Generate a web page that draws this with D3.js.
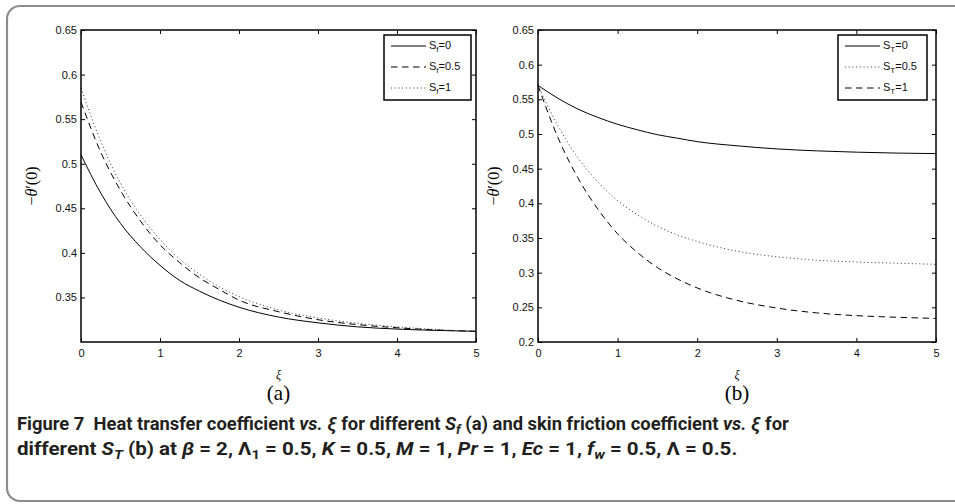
<!DOCTYPE html>
<html>
<head>
<meta charset="utf-8">
<script src="https://cdn.jsdelivr.net/npm/d3@7"></script>
<style>
  body { margin: 0; background: #fff; }
  svg { display: block; }
</style>
</head>
<body>
<svg id="fig" width="955" height="504"></svg>
<script>
// values
const xi = [0, 0.25, 0.5, 0.75, 1, 1.25, 1.5, 1.75, 2, 2.5, 3, 3.5, 4, 4.5, 5];

// (a) different S_f
const sf0  = [0.510, 0.467, 0.433, 0.407, 0.386, 0.369, 0.357, 0.347, 0.339, 0.328, 0.3215, 0.317, 0.3145, 0.313, 0.312];
const sf05 = [0.569, 0.513, 0.470, 0.436, 0.409, 0.389, 0.372, 0.359, 0.347, 0.334, 0.325, 0.3195, 0.316, 0.3135, 0.312];
const sf1  = [0.585, 0.525, 0.478, 0.443, 0.415, 0.393, 0.376, 0.362, 0.351, 0.336, 0.327, 0.321, 0.317, 0.314, 0.312];

// (b) different S_T
const st0  = [0.570, 0.5515, 0.536, 0.524, 0.514, 0.506, 0.499, 0.494, 0.489, 0.483, 0.4785, 0.4757, 0.4738, 0.4725, 0.4717];
const st05 = [0.570, 0.512, 0.466, 0.431, 0.404, 0.3835, 0.367, 0.3545, 0.345, 0.331, 0.323, 0.318, 0.3154, 0.3137, 0.312];
const st1  = [0.570, 0.495, 0.437, 0.392, 0.356, 0.329, 0.3074, 0.291, 0.278, 0.260, 0.249, 0.242, 0.238, 0.2357, 0.234];

const xTicks = [0, 1, 2, 3, 4, 5];
const yTicksA = [0.35, 0.4, 0.45, 0.5, 0.55, 0.6, 0.65];
const yTicksB = [0.2, 0.25, 0.3, 0.35, 0.4, 0.45, 0.5, 0.55, 0.6, 0.65];

const legendA = ["0", "0.5", "1"];
const legendB = ["0", "0.5", "1"];

const styles = {
  solid:  { dash: null,      color: "#000", width: 1 },
  dashed: { dash: "6.5,4.5", color: "#000", width: 1 },
  dotted: { dash: "1.1,2.6", color: "#444", width: 1 }
};

const svg = d3.select("#fig");
const tickFont = "'Liberation Sans', Arial, sans-serif";
const serif = "'Liberation Serif', 'DejaVu Serif', serif";

// outer rounded frame (runs off the right edge)
svg.append("rect")
  .attr("x", 7).attr("y", 6)
  .attr("width", 1000).attr("height", 495)
  .attr("rx", 13)
  .attr("fill", "none")
  .attr("stroke", "#8c8c8c")
  .attr("stroke-width", 2.2);

function drawPanel(opt) {
  const x = d3.scaleLinear().domain([0, 5]).range([opt.x0, opt.x1]);
  const y = d3.scaleLinear().domain(opt.yDomain).range([342, 30]);
  const g = svg.append("g");

  const line = d3.line()
    .x((d, i) => x(xi[i]))
    .y(d => y(d))
    .curve(d3.curveMonotoneX);

  opt.series.forEach(s => {
    const st = styles[s.style];
    g.append("path")
      .datum(s.values)
      .attr("fill", "none")
      .attr("stroke", st.color)
      .attr("stroke-width", st.width)
      .attr("stroke-dasharray", st.dash)
      .attr("d", line);
  });

  // axes, ticks pointing inward
  const bottom = g.append("g").attr("transform", `translate(0,342)`)
    .call(d3.axisBottom(x).tickValues(xTicks).tickSize(-4).tickPadding(7).tickFormat(d3.format("d")));
  const top = g.append("g").attr("transform", `translate(0,30)`)
    .call(d3.axisTop(x).tickValues(xTicks).tickSize(-4).tickFormat(""));
  const left = g.append("g").attr("transform", `translate(${opt.x0},0)`)
    .call(d3.axisLeft(y).tickValues(opt.yTicks).tickSize(-4).tickPadding(4).tickFormat(d => d3.format("")(+d.toFixed(2))));
  const right = g.append("g").attr("transform", `translate(${opt.x1},0)`)
    .call(d3.axisRight(y).tickValues(opt.yTicks).tickSize(-4).tickFormat(""));

  [bottom, top, left, right].forEach(a => {
    a.select(".domain").remove();
    a.selectAll("line").attr("stroke", "#000").attr("stroke-width", 1);
    a.selectAll("text").attr("font-family", tickFont).attr("font-size", 11).attr("fill", "#111");
  });

  g.append("rect")
    .attr("x", opt.x0).attr("y", 30)
    .attr("width", opt.x1 - opt.x0).attr("height", 312)
    .attr("fill", "none").attr("stroke", "#000").attr("stroke-width", 1.5);

  // axis labels
  const cx = (opt.x0 + opt.x1) / 2;
  g.append("text")
    .attr("x", cx).attr("y", 379)
    .attr("text-anchor", "middle")
    .attr("font-family", serif).attr("font-style", "italic").attr("font-size", 12)
    .text("ξ");
  g.append("text")
    .attr("x", cx).attr("y", 400)
    .attr("text-anchor", "middle")
    .attr("font-family", serif).attr("font-size", 21)
    .text(opt.label);

  const yl = g.append("text")
    .attr("transform", `translate(${opt.yLabelX},186) rotate(-90)`)
    .attr("text-anchor", "middle")
    .attr("font-family", serif).attr("font-size", 16);
  yl.append("tspan").text("−");
  yl.append("tspan").attr("font-style", "italic").text("θ");
  yl.append("tspan").text("′(0)");

  // legend
  const lg = g.append("g").attr("transform", `translate(${opt.legendX},35)`);
  lg.append("rect")
    .attr("width", opt.legendW).attr("height", 65)
    .attr("fill", "#fff").attr("stroke", "#000").attr("stroke-width", 1.5);
  opt.series.forEach((s, i) => {
    const st = styles[s.style];
    const ly = 11 + i * 21;
    lg.append("line")
      .attr("x1", 7).attr("x2", 42).attr("y1", ly).attr("y2", ly)
      .attr("stroke", st.color).attr("stroke-width", st.width)
      .attr("stroke-dasharray", st.dash);
    const t = lg.append("text")
      .attr("x", 45).attr("y", ly + 3)
      .attr("font-family", tickFont).attr("font-size", 11).attr("fill", "#111");
    t.append("tspan").text("S");
    t.append("tspan").attr("font-size", 8).attr("dy", 3).text(opt.sub);
    t.append("tspan").attr("dy", -3).text("=" + s.name);
  });
}

drawPanel({
  x0: 81, x1: 476, yDomain: [0.3, 0.65], yTicks: yTicksA,
  label: "(a)", yLabelX: 37, legendX: 384, legendW: 87, sub: "f",
  series: [
    { name: legendA[0], values: sf0,  style: "solid" },
    { name: legendA[1], values: sf05, style: "dashed" },
    { name: legendA[2], values: sf1,  style: "dotted" }
  ]
});

drawPanel({
  x0: 538, x1: 936, yDomain: [0.2, 0.65], yTicks: yTicksB,
  label: "(b)", yLabelX: 499, legendX: 838, legendW: 89, sub: "T",
  series: [
    { name: legendB[0], values: st0,  style: "solid" },
    { name: legendB[1], values: st05, style: "dotted" },
    { name: legendB[2], values: st1,  style: "dashed" }
  ]
});

// caption
const capFont = "Roboto, 'Liberation Sans', sans-serif";
const captionLines = [
  { y: 430, width: 772, parts: [
    ["Figure 7  Heat transfer coefficient "], ["vs.", "i"], [" "], ["ξ", "i"], [" for different "],
    ["S", "i"], ["f", "is"], [" (a) and skin friction coefficient "], ["vs.", "i"], [" "], ["ξ", "i"], [" for"]
  ]},
  { y: 455, width: 721, parts: [
    ["different "], ["S", "i"], ["T", "is"], [" (b) at "], ["β", "i"], [" = 2, "], ["Λ"], ["1", "s"],
    [" = 0.5, "], ["K", "i"], [" = 0.5, "], ["M", "i"], [" = 1, "], ["Pr", "i"], [" = 1, "],
    ["Ec", "i"], [" = 1, "], ["f", "i"], ["w", "is"], [" = 0.5, "], ["Λ"], [" = 0.5."]
  ]}
];

captionLines.forEach(ln => {
  const t = svg.append("text")
    .attr("font-family", capFont).attr("font-weight", "bold")
    .attr("font-size", 18).attr("fill", "#231f20")
    .attr("xml:space", "preserve");
  let shifted = false;
  ln.parts.forEach(([txt, f]) => {
    const sp = t.append("tspan").text(txt);
    const isSub = f && f.includes("s");
    if (f && f.includes("i")) sp.attr("font-style", "italic");
    if (isSub) { sp.attr("font-size", 13).attr("dy", shifted ? 0 : 4); shifted = true; }
    else if (shifted) { sp.attr("dy", -4); shifted = false; }
  });
  const w = t.node().getComputedTextLength();
  t.attr("transform", `translate(17,${ln.y}) scale(${ln.width / w},1)`);
});
</script>
</body>
</html>
